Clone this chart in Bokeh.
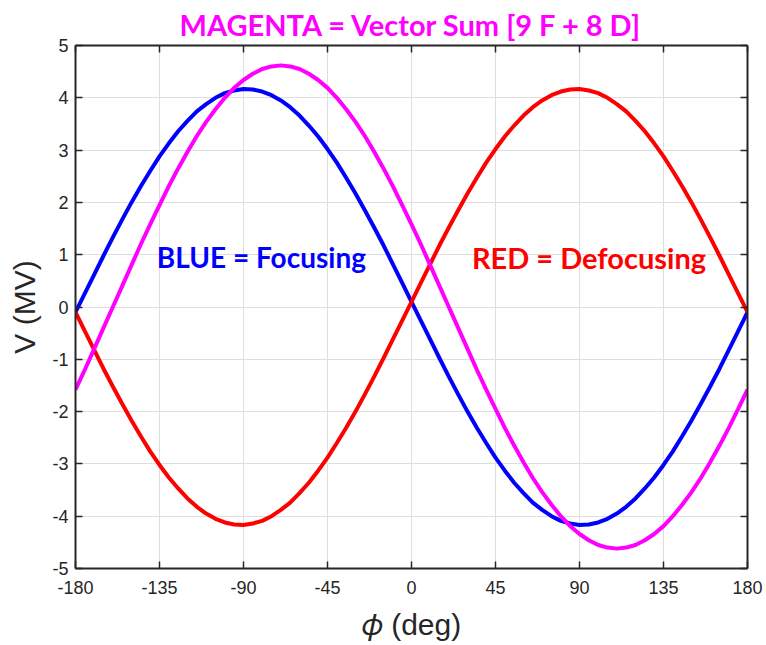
from bokeh.plotting import figure
from bokeh.models import Range1d, LinearAxis, Label, FixedTicker, ColumnDataSource
from bokeh.embed import file_html
from bokeh.resources import INLINE

# ---- data ----
phi_deg = [-180, -175, -170, -165, -160, -155, -150, -145, -140, -135, -130, -125,
           -120, -115, -110, -105, -100, -95, -90, -85, -80, -75, -70, -65,
           -60, -55, -50, -45, -40, -35, -30, -25, -20, -15, -10, -5,
           0, 5, 10, 15, 20, 25, 30, 35, 40, 45, 50, 55,
           60, 65, 70, 75, 80, 85, 90, 95, 100, 105, 110, 115,
           120, 125, 130, 135, 140, 145, 150, 155, 160, 165, 170, 175, 180]

blue_focusing = [-0.10, 0.26, 0.62, 0.98, 1.33, 1.67, 2.00, 2.31, 2.60, 2.88, 3.13, 3.36,
                 3.56, 3.74, 3.88, 4.00, 4.09, 4.14, 4.17, 4.16, 4.12, 4.05, 3.95, 3.82,
                 3.66, 3.47, 3.26, 3.02, 2.76, 2.47, 2.17, 1.85, 1.52, 1.18, 0.82, 0.46,
                 0.10, -0.26, -0.62, -0.98, -1.33, -1.67, -2.00, -2.31, -2.60, -2.88, -3.13, -3.36,
                 -3.56, -3.74, -3.88, -4.00, -4.09, -4.14, -4.17, -4.16, -4.12, -4.05, -3.95, -3.82,
                 -3.66, -3.47, -3.26, -3.02, -2.76, -2.47, -2.17, -1.85, -1.52, -1.18, -0.82, -0.46, -0.10]

red_defocusing = [-0.10, -0.46, -0.82, -1.18, -1.52, -1.85, -2.17, -2.47, -2.76, -3.02, -3.26, -3.47,
                  -3.66, -3.82, -3.95, -4.05, -4.12, -4.16, -4.17, -4.14, -4.09, -4.00, -3.88, -3.74,
                  -3.56, -3.36, -3.13, -2.88, -2.60, -2.31, -2.00, -1.67, -1.33, -0.98, -0.62, -0.26,
                  0.10, 0.46, 0.82, 1.18, 1.52, 1.85, 2.17, 2.47, 2.76, 3.02, 3.26, 3.47,
                  3.66, 3.82, 3.95, 4.05, 4.12, 4.16, 4.17, 4.14, 4.09, 4.00, 3.88, 3.74,
                  3.56, 3.36, 3.13, 2.88, 2.60, 2.31, 2.00, 1.67, 1.33, 0.98, 0.62, 0.26, -0.10]

magenta_sum = [-1.58, -1.20, -0.80, -0.40, 0.00, 0.40, 0.80, 1.20, 1.58, 1.95, 2.31, 2.65,
               2.97, 3.27, 3.54, 3.78, 4.00, 4.19, 4.34, 4.46, 4.55, 4.60, 4.62, 4.60,
               4.55, 4.46, 4.34, 4.19, 4.00, 3.78, 3.54, 3.27, 2.97, 2.65, 2.31, 1.95,
               1.58, 1.20, 0.80, 0.40, 0.00, -0.40, -0.80, -1.20, -1.58, -1.95, -2.31, -2.65,
               -2.97, -3.27, -3.54, -3.78, -4.00, -4.19, -4.34, -4.46, -4.55, -4.60, -4.62, -4.60,
               -4.55, -4.46, -4.34, -4.19, -4.00, -3.78, -3.54, -3.27, -2.97, -2.65, -2.31, -1.95, -1.58]

x_ticks = [-180, -135, -90, -45, 0, 45, 90, 135, 180]
x_tick_labels = ["-180", "-135", "-90", "-45", "0", "45", "90", "135", "180"]
y_ticks = [-5, -4, -3, -2, -1, 0, 1, 2, 3, 4, 5]
y_tick_labels = ["-5", "-4", "-3", "-2", "-1", "0", "1", "2", "3", "4", "5"]

title_text = "MAGENTA = Vector Sum [9 F + 8 D]"
blue_text = "BLUE = Focusing"
red_text = "RED = Defocusing"
y_label_text = "V (MV)"
x_label_text = "\U0001D719 (deg)"

AX = "#262626"
GRID = "#dedede"

p = figure(width=766, height=645, output_backend="svg", toolbar_location=None,
           x_range=Range1d(-180, 180), y_range=Range1d(-5, 5),
           min_border_left=75, min_border_right=19,
           min_border_top=45, min_border_bottom=77,
           x_axis_location=None, y_axis_location=None)
p.background_fill_color = "white"
p.border_fill_color = "white"
p.outline_line_color = None

p.title.text = title_text
p.title.align = "center"
p.title.text_font = "Lato"
p.title.text_font_style = "bold"
p.title.text_font_size = "29px"
p.title.text_color = "#ff00ff"
p.title.standoff = 8


def style_axis(ax, ticks, labels):
    ax.ticker = FixedTicker(ticks=ticks)
    ax.axis_line_color = AX
    ax.axis_line_width = 2
    ax.major_tick_line_color = AX
    ax.major_tick_line_width = 1.5
    ax.major_tick_in = 7
    ax.major_tick_out = 0
    ax.minor_tick_line_color = None
    ax.major_label_text_font = "Liberation Sans"
    ax.major_label_text_color = AX
    if labels is not None:
        ax.major_label_text_font_size = "18px"
        ax.major_label_overrides = {t: s for t, s in zip(ticks, labels)}
    else:
        ax.major_label_text_font_size = "1px"
        ax.major_label_text_color = None
        ax.major_label_standoff = 0


xb = LinearAxis(); xt = LinearAxis(); yl = LinearAxis(); yr = LinearAxis()
style_axis(xb, x_ticks, x_tick_labels)
style_axis(xt, x_ticks, None)
style_axis(yl, y_ticks, y_tick_labels)
style_axis(yr, y_ticks, None)
xb.major_label_standoff = 12
yl.major_label_standoff = 7

xb.axis_label = x_label_text
xb.axis_label_text_font = "Liberation Sans"
xb.axis_label_text_font_style = "normal"
xb.axis_label_text_font_size = "30px"
xb.axis_label_text_color = AX
xb.axis_label_standoff = 11

yl.axis_label = y_label_text
yl.axis_label_text_font = "Liberation Sans"
yl.axis_label_text_font_style = "normal"
yl.axis_label_text_font_size = "30px"
yl.axis_label_text_color = AX
yl.axis_label_standoff = 8

p.add_layout(xb, "below")
p.add_layout(xt, "above")
p.add_layout(yl, "left")
p.add_layout(yr, "right")

p.xgrid.ticker = FixedTicker(ticks=x_ticks)
p.ygrid.ticker = FixedTicker(ticks=y_ticks)
p.xgrid.grid_line_color = GRID
p.ygrid.grid_line_color = GRID

src = ColumnDataSource(dict(phi=phi_deg, blue=blue_focusing, red=red_defocusing, mag=magenta_sum))
p.line("phi", "blue", source=src, line_color="#0000ff", line_width=4)
p.line("phi", "red", source=src, line_color="#ff0000", line_width=4)
p.line("phi", "mag", source=src, line_color="#ff00ff", line_width=4)

bold = dict(text_font="Lato", text_font_style="bold", text_align="center", text_baseline="middle")
p.add_layout(Label(x=-80.4, y=0.95, text=blue_text, text_color="#0000ff",
                   text_font_size="28px", **bold))
p.add_layout(Label(x=95.1, y=0.95, text=red_text, text_color="#ff0000",
                   text_font_size="29px", **bold))

open("out.html", "w").write(file_html(p, INLINE))
